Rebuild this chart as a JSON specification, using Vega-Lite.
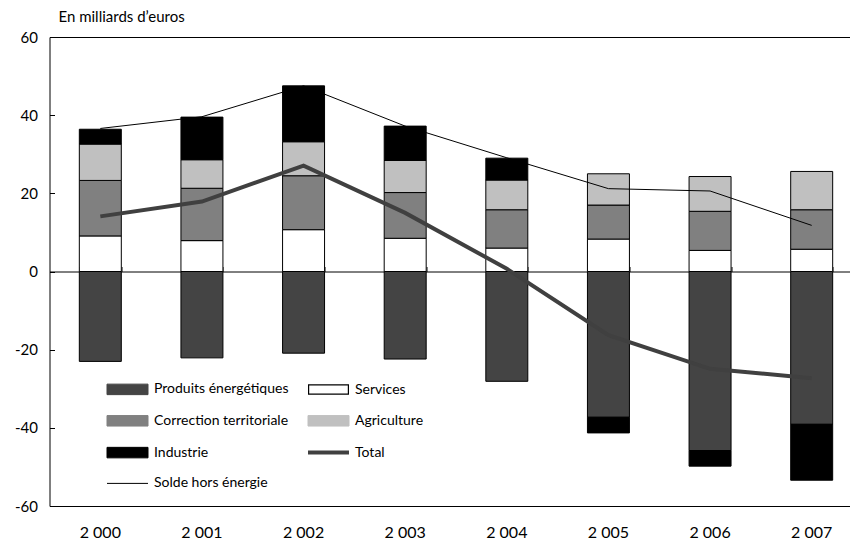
{
  "$schema": "https://vega.github.io/schema/vega-lite/v6.json",
  "width": 800,
  "height": 469,
  "autosize": {"type": "none"},
  "padding": {"left": 49.5, "top": 37, "right": 0, "bottom": 36},
  "background": "white",
  "config": {
    "view": {"stroke": null},
    "font": "Lato",
    "axis": {"labelFont": "Lato", "labelColor": "black", "domainColor": "black", "tickColor": "black", "grid": false},
    "legend": {
      "orient": "none",
      "legendX": 55.5,
      "legendY": 345,
      "columns": 2,
      "padding": 0,
      "rowPadding": 15.8,
      "columnPadding": 11,
      "symbolSize": 100,
      "labelOffset": 35,
      "labelFont": "Lato",
      "labelFontSize": 14,
      "labelColor": "black",
      "labelLimit": 300,
      "symbolStrokeColor": "black",
      "symbolStrokeWidth": 1,
      "symbolOpacity": 1
    }
  },
  "datasets": {
    "barres": [
      {"annee": "2000", "serie": "Produits énergétiques", "valeur": -23.0},
      {"annee": "2001", "serie": "Produits énergétiques", "valeur": -22.1},
      {"annee": "2002", "serie": "Produits énergétiques", "valeur": -20.9},
      {"annee": "2003", "serie": "Produits énergétiques", "valeur": -22.4},
      {"annee": "2004", "serie": "Produits énergétiques", "valeur": -28.1},
      {"annee": "2005", "serie": "Produits énergétiques", "valeur": -37.3},
      {"annee": "2006", "serie": "Produits énergétiques", "valeur": -45.8},
      {"annee": "2007", "serie": "Produits énergétiques", "valeur": -39.1},
      {"annee": "2000", "serie": "Services", "valeur": 9.1},
      {"annee": "2001", "serie": "Services", "valeur": 7.9},
      {"annee": "2002", "serie": "Services", "valeur": 10.7},
      {"annee": "2003", "serie": "Services", "valeur": 8.5},
      {"annee": "2004", "serie": "Services", "valeur": 6.0},
      {"annee": "2005", "serie": "Services", "valeur": 8.3},
      {"annee": "2006", "serie": "Services", "valeur": 5.4},
      {"annee": "2007", "serie": "Services", "valeur": 5.7},
      {"annee": "2000", "serie": "Correction territoriale", "valeur": 14.2},
      {"annee": "2001", "serie": "Correction territoriale", "valeur": 13.4},
      {"annee": "2002", "serie": "Correction territoriale", "valeur": 13.8},
      {"annee": "2003", "serie": "Correction territoriale", "valeur": 11.7},
      {"annee": "2004", "serie": "Correction territoriale", "valeur": 9.8},
      {"annee": "2005", "serie": "Correction territoriale", "valeur": 8.7},
      {"annee": "2006", "serie": "Correction territoriale", "valeur": 10.0},
      {"annee": "2007", "serie": "Correction territoriale", "valeur": 10.1},
      {"annee": "2000", "serie": "Agriculture", "valeur": 9.3},
      {"annee": "2001", "serie": "Agriculture", "valeur": 7.3},
      {"annee": "2002", "serie": "Agriculture", "valeur": 8.7},
      {"annee": "2003", "serie": "Agriculture", "valeur": 8.2},
      {"annee": "2004", "serie": "Agriculture", "valeur": 7.6},
      {"annee": "2005", "serie": "Agriculture", "valeur": 8.0},
      {"annee": "2006", "serie": "Agriculture", "valeur": 8.9},
      {"annee": "2007", "serie": "Agriculture", "valeur": 9.8},
      {"annee": "2000", "serie": "Industrie", "valeur": 3.8},
      {"annee": "2001", "serie": "Industrie", "valeur": 10.9},
      {"annee": "2002", "serie": "Industrie", "valeur": 14.3},
      {"annee": "2003", "serie": "Industrie", "valeur": 8.8},
      {"annee": "2004", "serie": "Industrie", "valeur": 5.6},
      {"annee": "2005", "serie": "Industrie", "valeur": -4.0},
      {"annee": "2006", "serie": "Industrie", "valeur": -4.0},
      {"annee": "2007", "serie": "Industrie", "valeur": -14.3}
    ],
    "lignes": [
      {"annee": "2000", "serie": "Total", "valeur": 14.1},
      {"annee": "2001", "serie": "Total", "valeur": 17.9},
      {"annee": "2002", "serie": "Total", "valeur": 27.1},
      {"annee": "2003", "serie": "Total", "valeur": 15.0},
      {"annee": "2004", "serie": "Total", "valeur": 0.7},
      {"annee": "2005", "serie": "Total", "valeur": -16.3},
      {"annee": "2006", "serie": "Total", "valeur": -24.9},
      {"annee": "2007", "serie": "Total", "valeur": -27.3},
      {"annee": "2000", "serie": "Solde hors énergie", "valeur": 36.6},
      {"annee": "2001", "serie": "Solde hors énergie", "valeur": 39.6},
      {"annee": "2002", "serie": "Solde hors énergie", "valeur": 47.5},
      {"annee": "2003", "serie": "Solde hors énergie", "valeur": 37.2},
      {"annee": "2004", "serie": "Solde hors énergie", "valeur": 29.1},
      {"annee": "2005", "serie": "Solde hors énergie", "valeur": 21.2},
      {"annee": "2006", "serie": "Solde hors énergie", "valeur": 20.6},
      {"annee": "2007", "serie": "Solde hors énergie", "valeur": 11.8}
    ]
  },
  "layer": [
    {
      "data": {"name": "barres"},
      "transform": [
        {"calculate": "indexof(['Produits énergétiques', 'Services', 'Correction territoriale', 'Agriculture', 'Industrie'], datum.serie)", "as": "rang"}
      ],
      "mark": {"type": "bar", "stroke": "black", "strokeWidth": 1},
      "encoding": {
        "x": {
          "field": "annee",
          "type": "nominal",
          "scale": {"range": [0, 813], "paddingInner": 0.587, "paddingOuter": 0.2935},
          "axis": {
            "orient": "bottom",
            "title": null,
            "domain": true,
            "ticks": false,
            "labelAngle": 0,
            "labelFontSize": 16,
            "labelPadding": 18,
            "labelExpr": "slice(datum.label, 0, 1) + ' ' + slice(datum.label, 1)"
          }
        },
        "y": {
          "field": "valeur",
          "type": "quantitative",
          "stack": "zero",
          "scale": {"domain": [-60, 60], "nice": false},
          "axis": {
            "title": "En milliards d’euros",
            "titleAngle": 0,
            "titleX": 8.5,
            "titleY": -16,
            "titleAlign": "left",
            "titleBaseline": "alphabetic",
            "titleFont": "Lato",
            "titleFontSize": 15,
            "titleFontWeight": "normal",
            "titleColor": "black",
            "values": [-60, -40, -20, 0, 20, 40, 60],
            "tickSize": -5,
            "labelPadding": 17,
            "labelFontSize": 15,
            "labelExpr": "'' + datum.value"
          }
        },
        "order": {"field": "rang", "type": "quantitative", "sort": "ascending"},
        "color": {
          "condition": {"test": "datum.serie === 'Services'", "value": "#ffffff"},
          "field": "serie",
          "type": "nominal",
          "scale": {
            "domain": ["Produits énergétiques", "Correction territoriale", "Industrie", "Solde hors énergie", "Services", "Agriculture", "Total"],
            "range": ["#444444", "#808080", "#000000", "#000000", "#000000", "#c0c0c0", "#404040"]
          },
          "legend": {
            "title": null,
            "encode": {
              "symbols": {
                "update": {
                  "shape": {"signal": "datum.value === 'Total' || datum.value === 'Solde hors énergie' ? 'M-1,0H7.2' : (datum.value === 'Services' ? 'M-1,-1.05H7.2V1.05H-1Z M-0.76,-0.81V0.81H6.96V-0.81Z' : 'M-1,-1.05H7.2V1.05H-1Z')"},
                  "strokeWidth": {"signal": "datum.value === 'Total' ? 4 : (datum.value === 'Services' ? 0 : 1)"},
                  "size": {"value": 100}
                }
              }
            }
          }
        }
      }
    },
    {
      "data": {"name": "lignes"},
      "transform": [{"filter": "datum.serie === 'Total'"}],
      "mark": {"type": "line", "strokeWidth": 4},
      "encoding": {
        "x": {
          "field": "annee",
          "type": "nominal",
          "axis": {
            "orient": "top",
            "offset": -234.5,
            "title": null,
            "labels": false,
            "tickSize": 5,
            "tickBand": "extent",
            "domain": true
          }
        },
        "y": {"field": "valeur", "type": "quantitative"},
        "color": {
          "field": "serie",
          "type": "nominal",
          "legend": {
            "title": null,
            "encode": {
              "symbols": {
                "shape": {"value": {"expr": "datum.value === 'Total' || datum.value === 'Solde hors énergie' ? 'M-1,0H7.2' : (datum.value === 'Services' ? 'M-1,-1.05H7.2V1.05H-1Z M-0.76,-0.81V0.81H6.96V-0.81Z' : 'M-1,-1.05H7.2V1.05H-1Z')"}},
                "strokeWidth": {"value": {"expr": "datum.value === 'Total' ? 4 : (datum.value === 'Services' ? 0 : 1)"}},
                "size": {"value": 100},
                "opacity": {"value": 1}
              }
            }
          }
        }
      }
    },
    {
      "data": {"name": "lignes"},
      "transform": [{"filter": "datum.serie === 'Solde hors énergie'"}],
      "mark": {"type": "line", "strokeWidth": 1},
      "encoding": {
        "x": {
          "field": "annee",
          "type": "nominal",
          "axis": {
            "orient": "top",
            "offset": 0,
            "title": null,
            "labels": false,
            "ticks": false,
            "domain": true
          }
        },
        "y": {"field": "valeur", "type": "quantitative"},
        "color": {"field": "serie", "type": "nominal"}
      }
    }
  ],
  "resolve": {"axis": {"x": "independent"}}
}
